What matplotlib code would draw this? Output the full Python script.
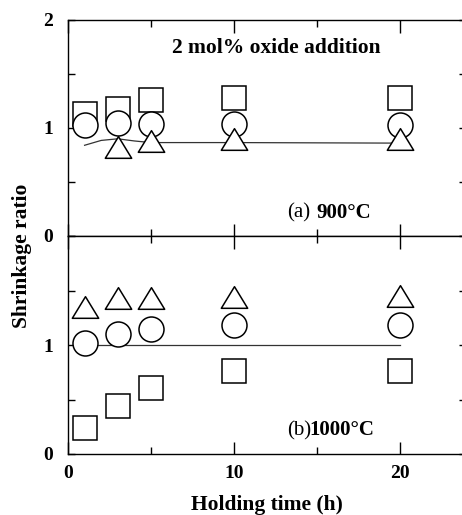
import numpy as np
import matplotlib
matplotlib.use("Agg")
import matplotlib.pyplot as plt
from matplotlib.path import Path

plt.rcParams['font.family'] = ['Liberation Serif', 'DejaVu Serif']

# holding time (h)
hours = [1, 3, 5, 10, 20]

# (a) 900 C
sq_900 = [1.13, 1.18, 1.26, 1.28, 1.28]
ci_900 = [1.03, 1.05, 1.04, 1.04, 1.03]
tri_hours_900 = [3, 5, 10, 20]
tri_900 = [0.82, 0.88, 0.90, 0.90]
fit_x_900 = [1, 2, 3, 4, 5, 10, 20]
fit_y_900 = [0.84, 0.885, 0.90, 0.88, 0.865, 0.865, 0.86]

# (b) 1000 C
sq_1000 = [0.24, 0.44, 0.61, 0.76, 0.76]
ci_1000 = [1.02, 1.10, 1.15, 1.18, 1.18]
tri_1000 = [1.35, 1.43, 1.43, 1.44, 1.45]
fit_x_1000 = [1, 20]
fit_y_1000 = [1.0, 1.0]

W, H = 462, 515
fig = plt.figure(figsize=(W / 100, H / 100), dpi=100)

left = 68 / W
width = 398 / W
ax1 = fig.add_axes([left, 1 - 236 / H, width, 216 / H])
ax2 = fig.add_axes([left, 1 - 454 / H, width, 218 / H])

tri = Path([(-1, -0.82), (1, -0.82), (0, 0.82), (0, 0)],
           [Path.MOVETO, Path.LINETO, Path.LINETO, Path.CLOSEPOLY])
mk = dict(mfc='white', mec='black', mew=1.1, ls='none')

for ax in (ax1, ax2):
    ax.set_xlim(0, 24)
    ax.set_ylim(0, 2)
    ax.set_xticks([0, 10, 20])
    ax.set_xticks([5, 15], minor=True)
    ax.set_yticks([0, 1, 2])
    ax.set_yticks([0.5, 1.5], minor=True)
    ax.tick_params(which='both', direction='in', width=1, top=True, right=True,
                   labelsize=14)
    ax.tick_params(axis='x', which='major', length=9, pad=8)
    ax.tick_params(axis='x', which='minor', length=5)
    ax.tick_params(axis='y', which='both', length=5, pad=11)
    for s in ax.spines.values():
        s.set_linewidth(1)
    ax.spines['right'].set_visible(False)

ax1.set_xticklabels([])
ax1.set_yticklabels(['0', '1', '2'])
ax2.set_xticklabels(['0', '10', '20'])
ax2.set_yticklabels(['0', '1', ''])
for lab in ax1.get_yticklabels() + ax2.get_yticklabels() + ax2.get_xticklabels():
    lab.set_fontweight('bold')

# (a)
ax1.plot(fit_x_900, fit_y_900, color='#333333', lw=0.9, zorder=1)
ax1.plot(hours, sq_900, marker='s', ms=17, zorder=2, **mk)
ax1.plot(hours, ci_900, marker='o', ms=18, zorder=3, **mk)
ax1.plot(tri_hours_900, tri_900, marker=tri, ms=19, zorder=4, **mk)
ax1.text(6.3, 1.69, '2 mol% oxide addition', fontsize=15.5, fontweight='bold')
ax1.text(13.2, 0.17, '(a)', fontsize=15)
ax1.text(14.95, 0.17, '900°C', fontsize=15, fontweight='bold')

# (b)
ax2.plot(fit_x_1000, fit_y_1000, color='#333333', lw=0.9, zorder=1)
ax2.plot(hours, sq_1000, marker='s', ms=17, zorder=2, **mk)
ax2.plot(hours, ci_1000, marker='o', ms=18, zorder=3, **mk)
ax2.plot(hours, tri_1000, marker=tri, ms=19, zorder=4, **mk)
ax2.text(13.2, 0.17, '(b)', fontsize=15)
ax2.text(14.55, 0.17, '1000°C', fontsize=15, fontweight='bold')

ax2.set_xlabel('Holding time (h)', fontsize=15.5, fontweight='bold', labelpad=9)
fig.text(22 / W, 1 - 256 / H, 'Shrinkage ratio', rotation=90, ha='center',
         va='center', fontsize=15.5, fontweight='bold')

fig.savefig('out.png', dpi=100)
